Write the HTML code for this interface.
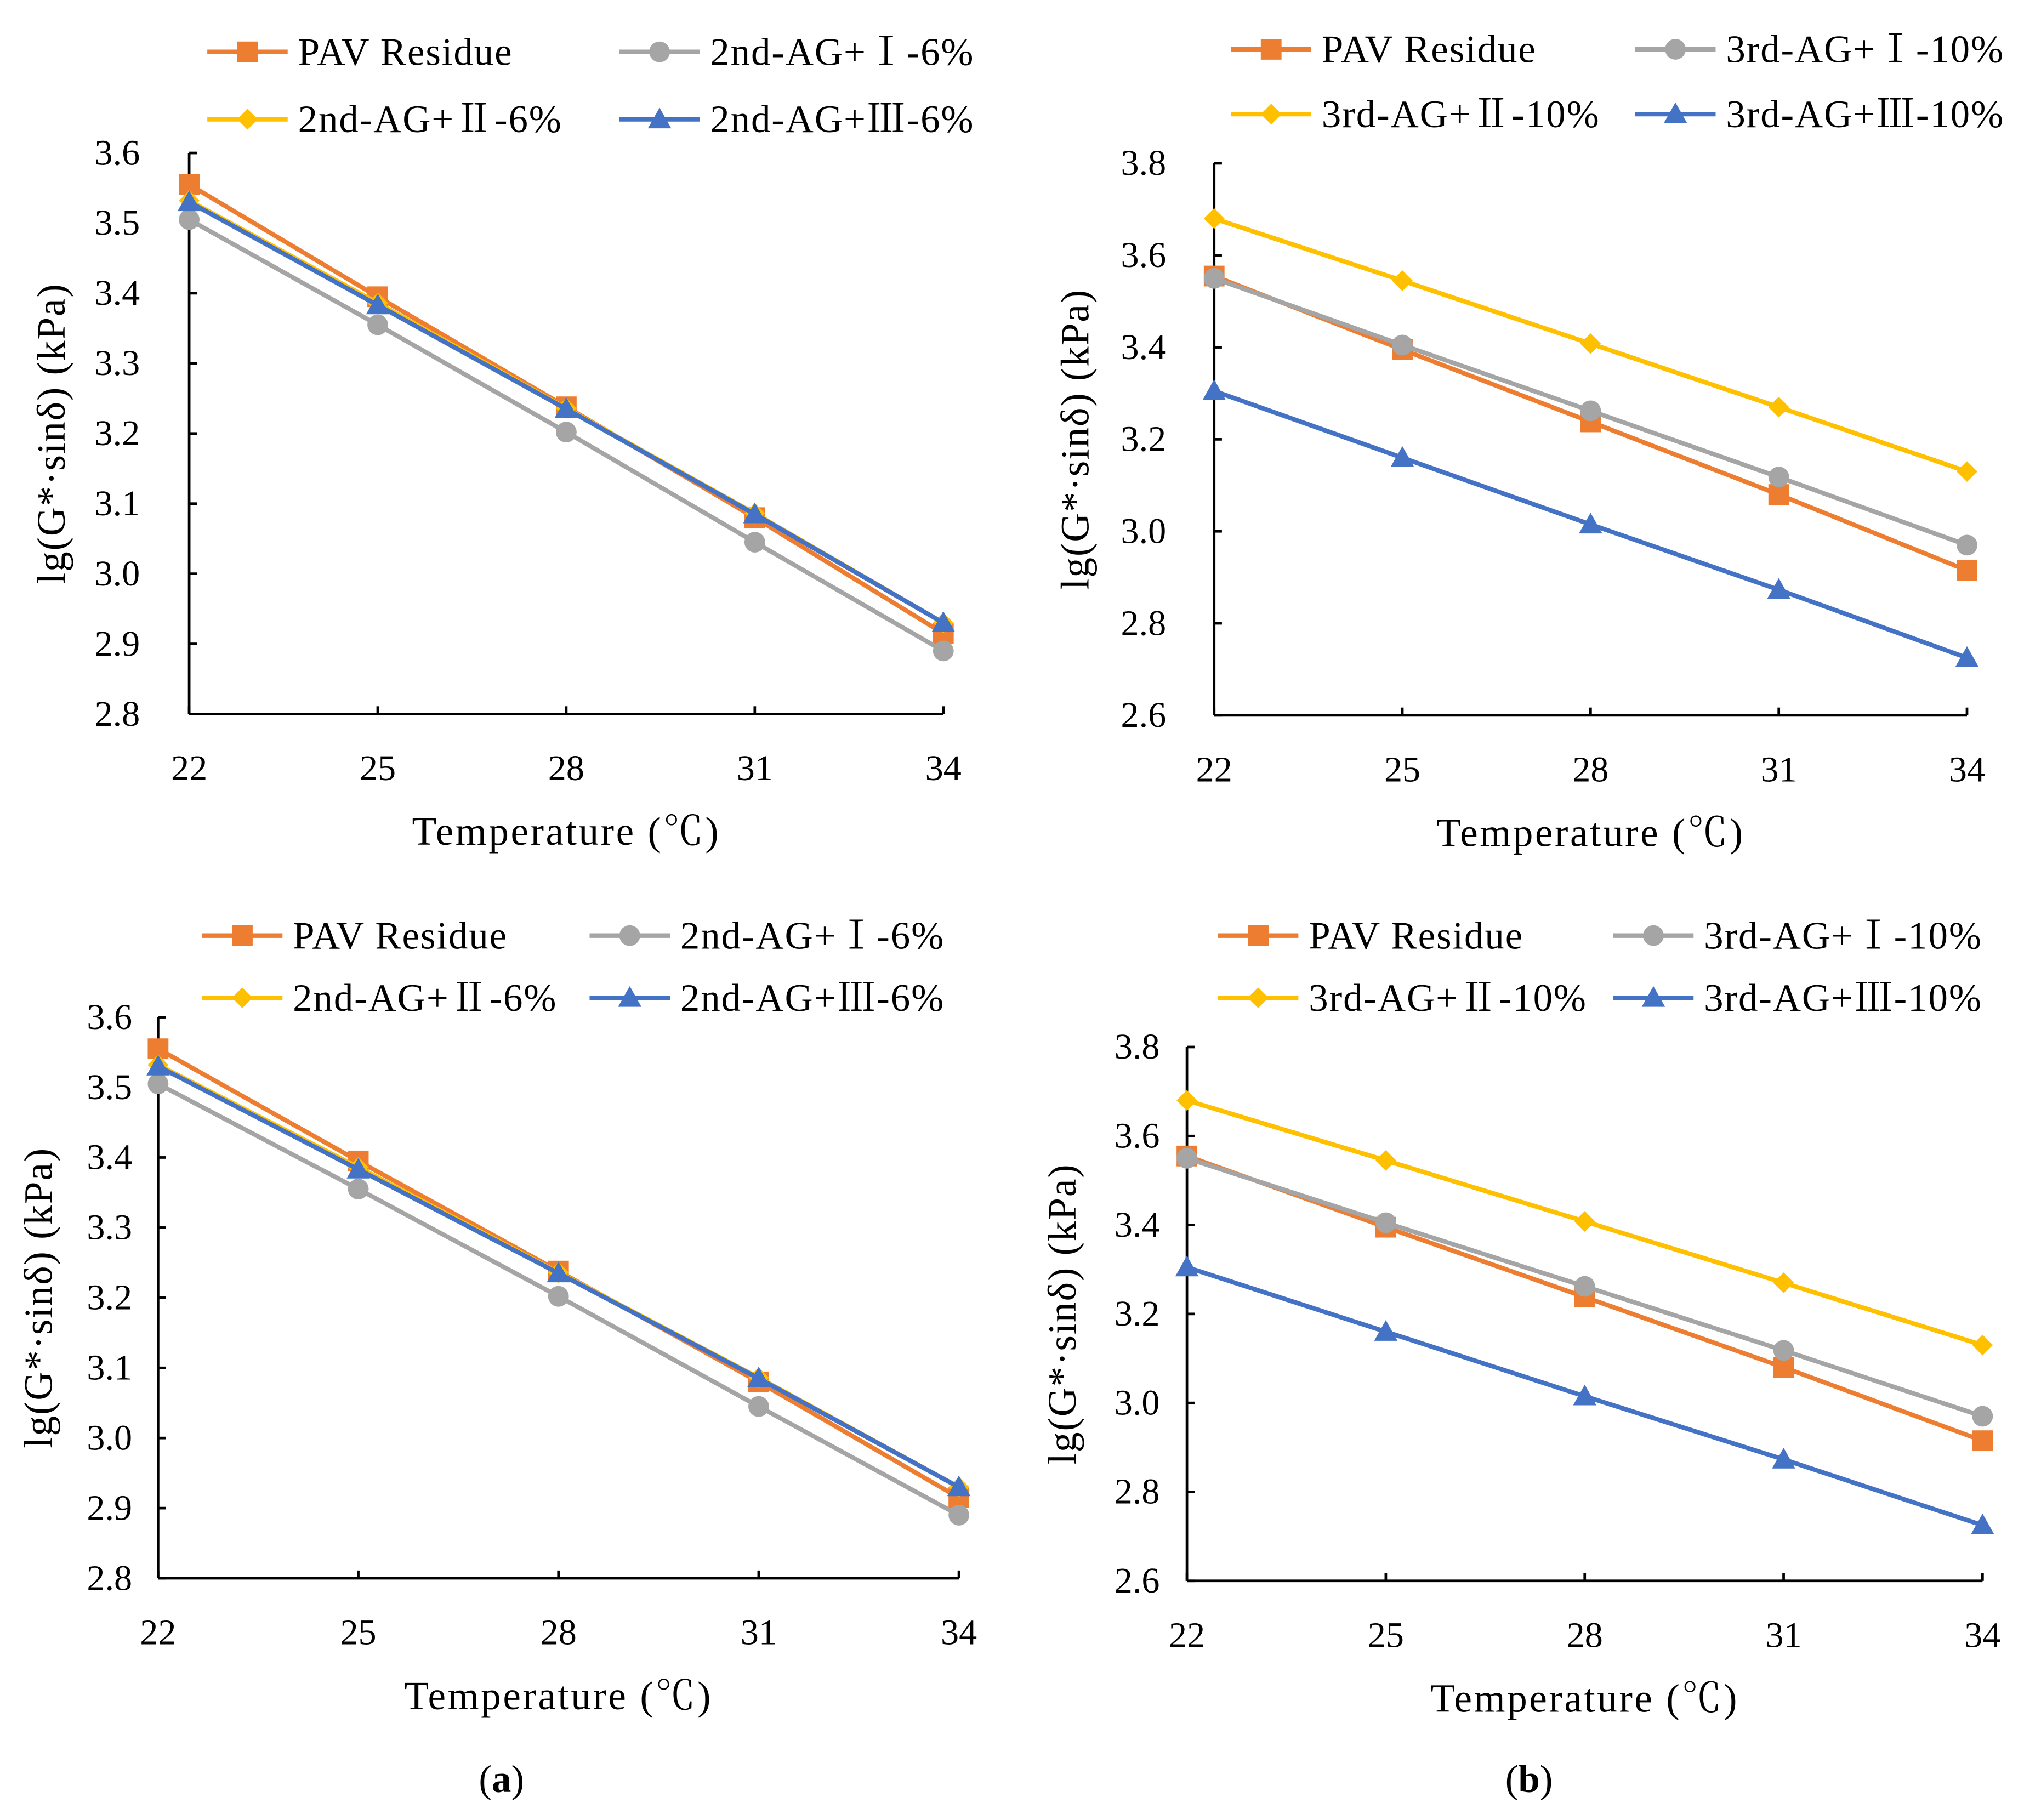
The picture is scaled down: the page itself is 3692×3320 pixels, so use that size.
<!DOCTYPE html>
<html><head><meta charset="utf-8"><style>
html,body{margin:0;padding:0;background:#fff}
svg{display:block}
text{font-family:"Liberation Serif","Noto Serif CJK SC",serif;fill:#000}
</style></head><body>
<svg id="chart" width="3692" height="3320" viewBox="0 0 1562 1404.5" xmlns="http://www.w3.org/2000/svg"></svg>
<script>
const temps = [22, 25, 28, 31, 34];
const pavResidue = [3.555, 3.395, 3.238, 3.08, 2.915];
const secondAG1 = [3.505, 3.355, 3.202, 3.045, 2.89];
const secondAG2 = [3.532, 3.386, 3.236, 3.086, 2.93];
const secondAG3 = [3.53, 3.383, 3.235, 3.085, 2.93];
const thirdAG1 = [3.55, 3.405, 3.262, 3.118, 2.97];
const thirdAG2 = [3.68, 3.545, 3.408, 3.27, 3.13];
const thirdAG3 = [3.305, 3.16, 3.015, 2.873, 2.725];
const leftTicks = ["2.8","2.9","3.0","3.1","3.2","3.3","3.4","3.5","3.6"];
const rightTicks = ["2.6","2.8","3.0","3.2","3.4","3.6","3.8"];
const leftNames = ["PAV Residue","2nd-AG+Ⅰ-6%","2nd-AG+Ⅱ-6%","2nd-AG+Ⅲ-6%"];
const rightNames = ["PAV Residue","3rd-AG+Ⅰ-10%","3rd-AG+Ⅱ-10%","3rd-AG+Ⅲ-10%"];

const svg = document.getElementById('chart');
const NS = 'http://www.w3.org/2000/svg';
function mk(tag, attrs, parent){const e=document.createElementNS(NS,tag);for(const k in attrs)e.setAttribute(k,attrs[k]);(parent||svg).appendChild(e);return e;}
const colors=['#ED7D31','#A5A5A5','#FFC000','#4472C4'];
const markers=['square','circle','diamond','triangle'];
function marker(type,x,y,c,g){
  if(type==='square') return mk('rect',{x:x-8,y:y-8,width:16,height:16,fill:c},g);
  if(type==='circle') return mk('circle',{cx:x,cy:y,r:8,fill:c},g);
  if(type==='diamond') return mk('polygon',{points:`${x},${y-8} ${x+8},${y} ${x},${y+8} ${x-8},${y}`,fill:c},g);
  return mk('polygon',{points:`${x},${y-9} ${x+9},${y+7} ${x-9},${y+7}`,fill:c},g);
}
function panel(p){
  const g=mk('g',{});
  
  
  const xs=v=>p.x0+(v-temps[0])/(temps[temps.length-1]-temps[0])*(p.x1-p.x0);
  const ymin=+p.ticks[0], ymax=+p.ticks[p.ticks.length-1];
  const ys=v=>p.y0-(v-ymin)/(ymax-ymin)*(p.y0-p.y1);
  const ya=mk('line',{x1:p.x0,y1:p.y0,x2:p.x0,y2:p.y1,stroke:'#000','stroke-width':2},g);
  
  const xa=mk('line',{x1:p.x0,y1:p.y0,x2:p.x1,y2:p.y0,stroke:'#000','stroke-width':2},g);
  
  p.ticks.forEach(t=>{
    const y=ys(+t);
    mk('line',{x1:p.x0,y1:y,x2:p.x0+6,y2:y,stroke:'#000','stroke-width':2},g);
    const tx=mk('text',{x:p.x0-p.tOff,y:y+9,'text-anchor':'end','font-size':28},g);
    tx.textContent=t;
    
  });
  temps.forEach(t=>{
    const x=xs(t);
    mk('line',{x1:x,y1:p.y0,x2:x,y2:p.y0-6,stroke:'#000','stroke-width':2},g);
    const tx=mk('text',{x:x,y:p.y0+51,'text-anchor':'middle','font-size':28},g);
    tx.textContent=t;
    
  });
  const yt=mk('text',{x:0,y:0,'text-anchor':'middle','font-size':31,'letter-spacing':0.8,transform:`translate(${p.x0-p.yTitleOff},${(p.y0+p.y1)/2}) rotate(-90)`},g);
  yt.textContent='lg(G*·sinδ) (kPa)';
  
  const xt=mk('text',{x:(p.x0+p.x1)/2,y:p.y0+101,'text-anchor':'middle','font-size':31,'letter-spacing':1.5},g);
  xt.textContent='Temperature (℃)';
  
  p.series.forEach((s,i)=>{
    const sg=mk('g',{},g);
    
    const pts=s.map((v,j)=>xs(temps[j])+','+ys(v)).join(' ');
    mk('polyline',{points:pts,fill:'none',stroke:colors[i],'stroke-width':3.5},sg);
    s.forEach((v,j)=>{const m=marker(markers[i],xs(temps[j]),ys(v),colors[i],sg);
      });
  });
  p.names.forEach((n,i)=>{
    const lx=p.legX[i%2], ly=p.legY[Math.floor(i/2)];
    const lg=mk('g',{},g);
    
    mk('line',{x1:lx,y1:ly,x2:lx+62,y2:ly,stroke:colors[i],'stroke-width':3.5},lg);
    marker(markers[i],lx+31,ly,colors[i],lg);
    const t=mk('text',{x:lx+70,y:ly+10,'font-size':30,'letter-spacing':0.8},lg);
    t.textContent=n;
  });
}
const lseries=[pavResidue,secondAG1,secondAG2,secondAG3];
const rseries=[pavResidue,thirdAG1,thirdAG2,thirdAG3];
panel({name:'chart-top-left',x0:146,x1:728,y0:551,y1:118,ticks:leftTicks,series:lseries,names:leftNames,legX:[160,478],legY:[40,92],tOff:38,yTitleOff:96});
panel({name:'chart-top-right',x0:937,x1:1518,y0:552,y1:126,ticks:rightTicks,series:rseries,names:rightNames,legX:[950,1262],legY:[38,88],tOff:37,yTitleOff:97});
panel({name:'chart-bottom-left',x0:122,x1:740,y0:1218,y1:785,ticks:leftTicks,series:lseries,names:leftNames,legX:[156,455],legY:[722,770],tOff:20,yTitleOff:82});
panel({name:'chart-bottom-right',x0:916,x1:1530,y0:1220,y1:808,ticks:rightTicks,series:rseries,names:rightNames,legX:[940,1245],legY:[722,770],tOff:21,yTitleOff:86});
const la=mk('text',{x:387,y:1383,'text-anchor':'middle','font-size':30});
la.innerHTML='(<tspan font-weight="bold">a</tspan>)';

const lb=mk('text',{x:1180,y:1383,'text-anchor':'middle','font-size':30});
lb.innerHTML='(<tspan font-weight="bold">b</tspan>)';

</script>
</body></html>
